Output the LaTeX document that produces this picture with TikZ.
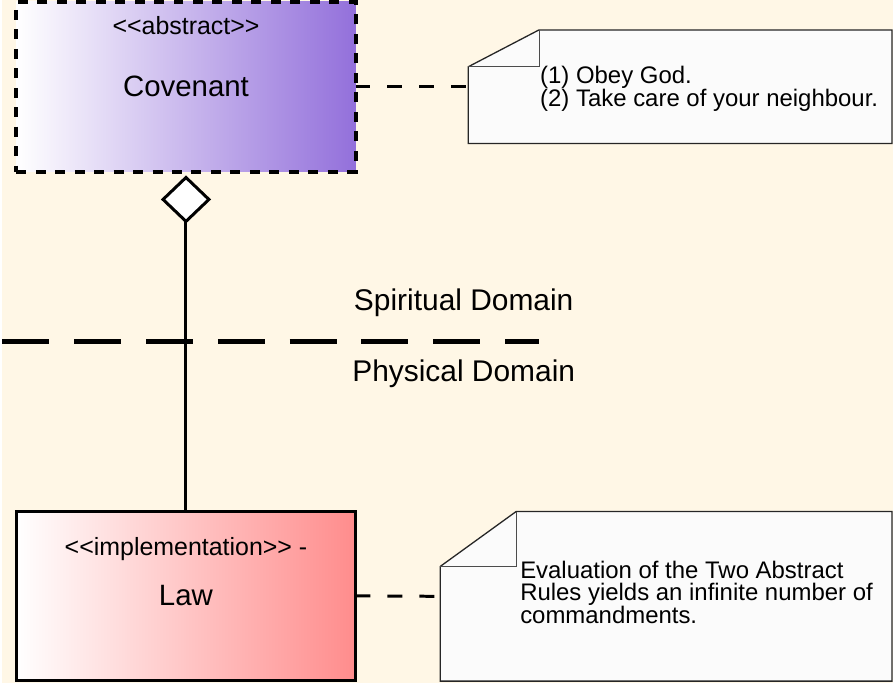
\documentclass[tikz,border=0pt]{standalone}
\usepackage{fontspec}
\setmainfont{Liberation Sans}
\usepackage{tikz}
\usetikzlibrary{shapes.geometric}

\definecolor{paper}{RGB}{255,247,230}
\definecolor{covpurple}{RGB}{147,112,219}
\definecolor{lawred}{RGB}{255,140,140}
\definecolor{notefill}{RGB}{251,251,251}

\begin{document}
\begin{tikzpicture}[x=1pt,y=-1pt,
    classbox/.style={rectangle,minimum width=340pt,inner sep=0pt,outer sep=0pt,font=\fontsize{29.5}{32}\selectfont},
    stereo/.style={anchor=base,inner sep=0pt,font=\fontsize{25}{28}\selectfont},
    domainlabel/.style={anchor=base,inner sep=0pt,font=\fontsize{30}{33}\selectfont},
    notebox/.style={rectangle,inner sep=0pt,outer sep=0pt},
    notetext/.style={anchor=west,align=left,inner sep=0pt,font=\fontsize{24}{22}\selectfont},
    noteline/.style={draw=black!85,line width=1.3pt,fill=notefill},
    foldline/.style={draw=black!70,line width=1pt},
    attach/.style={line width=3pt,dash pattern=on 15pt off 17pt}]

    % background
    \fill[paper] (0,0) rectangle (893,685);

    % Classes
    \node[classbox,minimum height=170pt,draw,line width=4pt,dash pattern=on 10pt off 9.5pt,
        left color=white,right color=covpurple] (Covenant) at (184,87) {Covenant};
    \node[stereo] (CovStereo) at (184,34.5) {<{}<abstract>{}>};
    \node[classbox,minimum height=169pt,draw,line width=3pt,
        left color=white,right color=lawred] (Law) at (184,597.5) {Law};
    \node[stereo] (LawStereo) at (184,557) {<{}<implementation>{}> -};

    % Aggregation
    \node[diamond,draw,line width=3pt,fill=white,inner sep=0pt,outer sep=0pt,
        minimum width=46pt,minimum height=44pt] (Agg) at (184,200) {};
    \draw[line width=3pt] (Agg.south) -- (Law.north);

    % Domain border
    \coordinate (DomL) at (0,342);
    \coordinate (DomR) at (538,342);
    \draw[line width=5pt,dash pattern=on 47pt off 25pt] (DomL) -- (DomR);
    \node[domainlabel] (Spirit) at (462.5,311) {Spiritual Domain};
    \node[domainlabel] (Phys) at (462.5,383) {Physical Domain};

    % Notes
    \node[notebox,minimum width=425pt,minimum height=114pt] (RuleNote) at (679.5,87) {};
    \draw[noteline] (RuleNote.south west) -- (RuleNote.south east) -- (RuleNote.north east)
        -- ([xshift=71pt]RuleNote.north west) -- ([yshift=-37pt]RuleNote.north west) -- cycle;
    \draw[foldline] ([xshift=71pt]RuleNote.north west) -- ([xshift=71pt,yshift=-37pt]RuleNote.north west)
        -- ([yshift=-37pt]RuleNote.north west);
    \node[notetext] (RuleText) at (539,89) {(1) Obey God.\\(2) Take care of your neighbour.};

    \node[notebox,minimum width=453pt,minimum height=170pt] (LawNote) at (665.5,598) {};
    \draw[noteline] (LawNote.south west) -- (LawNote.south east) -- (LawNote.north east)
        -- ([xshift=76pt]LawNote.north west) -- ([yshift=-55pt]LawNote.north west) -- cycle;
    \draw[foldline] ([xshift=76pt]LawNote.north west) -- ([xshift=76pt,yshift=-55pt]LawNote.north west)
        -- ([yshift=-55pt]LawNote.north west);
    \node[notetext] (LawText) at (519,594) {Evaluation of the Two Abstract\\Rules yields an infinite number of\\commandments.};

    % Note links
    \draw[attach] (Covenant.east) -- (RuleNote.west);
    \draw[attach] (Law.east) -- (LawNote.west);
\end{tikzpicture}
\end{document}
